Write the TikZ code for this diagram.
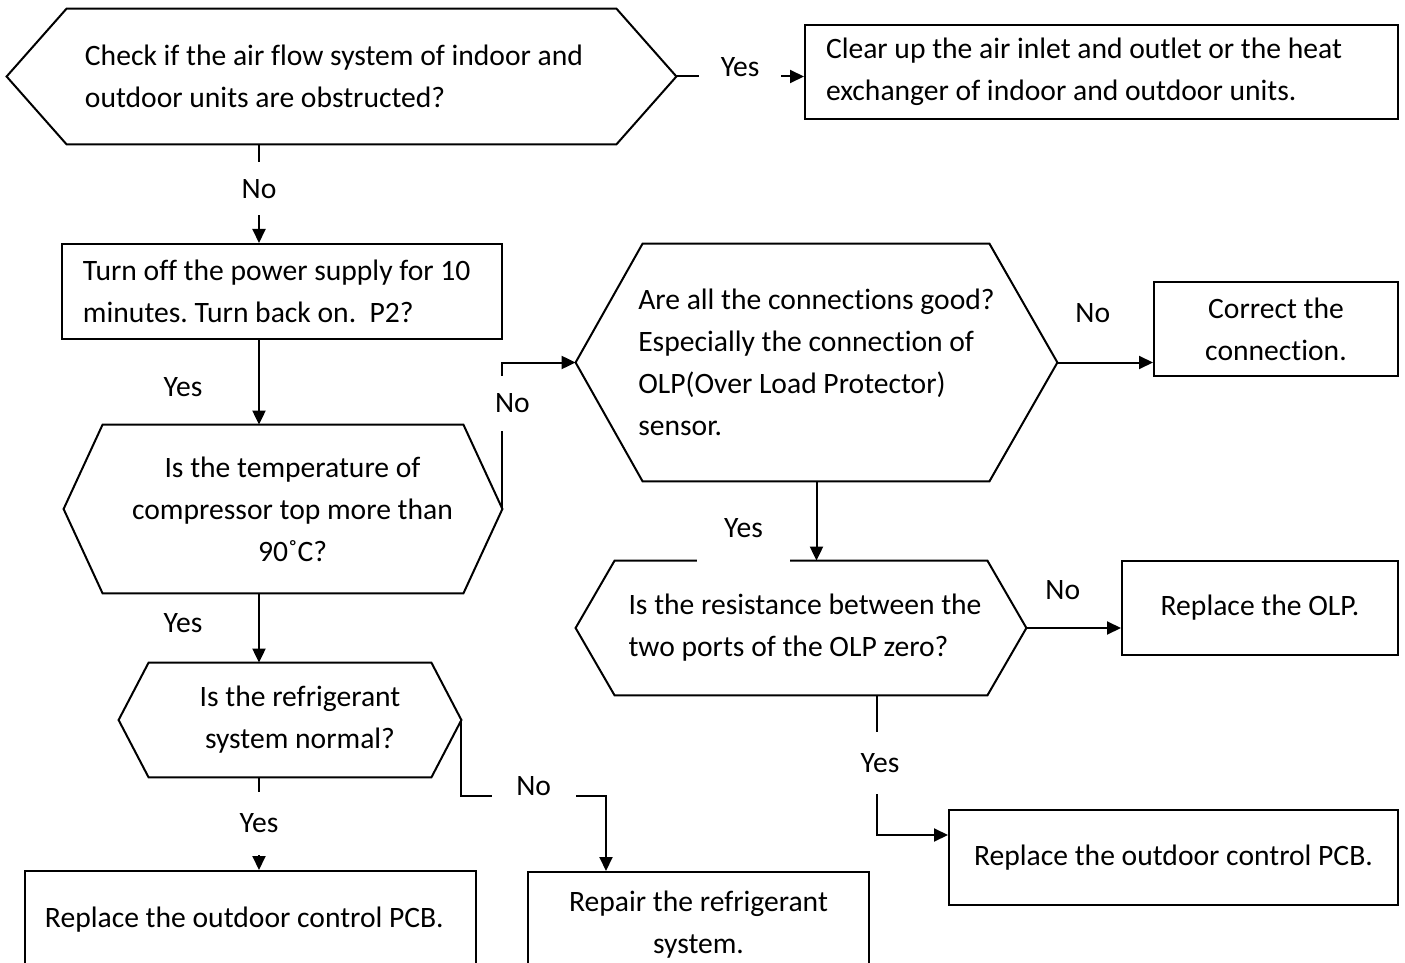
\documentclass[tikz,border=0pt]{standalone}
\usepackage{fontspec}
\setmainfont{Carlito}[Ligatures=CommonOff]
\frenchspacing
\usepackage{tikz}
\usetikzlibrary{
  arrows.meta,
  calc
}
\tikzset{
  arrow/.style     = {-{Triangle[length=7pt, width=6.5pt]}, line width=1pt},
  outline/.style   = {line width=1pt, line join=miter},
  lbox/.style      = {draw, line width=1pt, align=flush left,
                      inner xsep=10.5pt, inner ysep=0pt},
  cbox/.style      = {draw, line width=1pt, align=center, inner sep=0pt},
  hexnode/.style   = {inner sep=0pt},
  gaplabel/.style  = {fill=white, inner sep=0pt},
  sidelabel/.style = {inner sep=0pt},
}

\begin{document}
\begin{tikzpicture}[x=0.5pt, y=-0.5pt,
    every node/.style={font=\fontsize{14.8}{21}\selectfont}]

    \clip (0,0) rectangle (1405,963);

    % Decision nodes (outlines drawn below)
    \node[hexnode, align=left, minimum width=342pt, minimum height=67.5pt]
        (chk) at (334,76.5)
        {Check if the air flow system of indoor and\\outdoor units are obstructed?};
    \node[hexnode, align=center, minimum width=209.5pt, minimum height=84pt]
        (tmp) at (292.5,509)
        {Is the temperature of\\compressor top more than\\90˚C?};
    \node[hexnode, align=center, minimum width=161pt, minimum height=57pt]
        (ref) at (300,720)
        {Is the refrigerant\\system normal?};
    \node[hexnode, align=left, minimum width=240.5pt, minimum height=118.5pt]
        (con) at (816.5,362.5)
        {Are all the connections good?\\Especially the connection of\\OLP(Over Load Protector)\\sensor.};
    \node[hexnode, align=left, minimum width=221pt, minimum height=67pt]
        (res) at (805,628)
        {Is the resistance between the\\two ports of the OLP zero?};

    % Action boxes
    \node[lbox, text width=275.5pt, minimum height=47pt] (clr) at (1101.5,72)
        {Clear up the air inlet and outlet or the heat\\exchanger of indoor and outdoor units.};
    \node[lbox, text width=199pt, minimum height=47.5pt] (off) at (282,291.5)
        {Turn off the power supply for 10\\minutes. Turn back on.\ \ P2?};
    \node[cbox, minimum width=122pt, minimum height=47pt] (cor) at (1276,329)
        {Correct the\\connection.};
    \node[cbox, minimum width=138pt, minimum height=47pt] (olp) at (1260,608)
        {Replace the OLP.};
    \node[cbox, minimum width=224.5pt, minimum height=47.5pt] (pcb2) at (1173.5,857.5)
        {Replace the outdoor control PCB.};
    \node[lbox, inner xsep=10pt, text width=205.5pt, minimum height=48.5pt]
        (pcb1) at (250.5,919.5)
        {Replace the outdoor control PCB.};
    \node[cbox, minimum width=170.5pt, minimum height=53pt] (rep) at (698.5,925)
        {Repair the refrigerant\\system.};

    % Hexagon outlines: node / left point shift / left inset / right inset
    \foreach \n/\p/\l/\r in {chk/7.5pt/37.5pt/30pt, tmp/-9.5pt/10pt/19.5pt,
                             ref/-10pt/5pt/15pt, con/0pt/33.5pt/34pt,
                             res/-4pt/15.5pt/19.5pt} {
        \draw[outline]
            ([xshift=\p]\n.west) -- ([xshift=\l]\n.north west)
            -- ([xshift=-\r]\n.north east) -- (\n.east)
            -- ([xshift=-\r]\n.south east) -- ([xshift=\l]\n.south west)
            -- cycle;
    }

    % Left column connectors
    \coordinate (lcol) at (259,0);
    \draw[arrow] (chk.south -| lcol)
        -- node[gaplabel, pos=0.45, minimum width=20pt, minimum height=26.5pt] {No}
        (off.north -| lcol);
    \draw[arrow] (off.south -| lcol)
        -- node[sidelabel, pos=0.56, xshift=-38pt] {Yes}
        (tmp.north -| lcol);
    \draw[arrow] (tmp.south -| lcol)
        -- node[sidelabel, pos=0.43, xshift=-38pt] {Yes}
        (ref.north -| lcol);
    \draw[arrow] (ref.south -| lcol)
        -- node[gaplabel, pos=0.495, minimum width=30pt, minimum height=31.5pt] {Yes}
        (pcb1.north -| lcol);

    % Top branch
    \draw[arrow] (chk.east)
        -- node[gaplabel, yshift=4.5pt, minimum width=41pt, minimum height=18pt] {Yes}
        (chk.east -| clr.west);

    % Compressor temperature branch
    \draw[arrow] (tmp.east)
        |- node[gaplabel, pos=0.36, xshift=5pt, minimum width=20pt, minimum height=27.5pt] {No}
        (con.west);
    \draw[arrow] (ref.east) -- ++(0,76)
        -| node[gaplabel, pos=0.25, yshift=5pt, minimum width=42pt, minimum height=16pt] {No}
        ([xshift=-46.25pt]rep.north);

    % Connection and OLP branch
    \draw[arrow] (con.east)
        -- node[sidelabel, pos=0.37, yshift=24.5pt] {No}
        (con.east -| cor.west);
    \draw[arrow] (con.south)
        -- node[gaplabel, pos=0.59, xshift=-36.5pt, minimum width=46.5pt, minimum height=34pt] {Yes}
        (con.south |- res.north);
    \draw[arrow] (res.east)
        -- node[sidelabel, pos=0.385, yshift=19pt] {No}
        (res.east -| olp.west);
    \draw[arrow] ([xshift=36pt]res.south)
        |- node[gaplabel, pos=0.243, xshift=1.5pt, minimum width=30pt, minimum height=31pt] {Yes}
        ([yshift=11.25pt]pcb2.west);

\end{tikzpicture}
\end{document}
